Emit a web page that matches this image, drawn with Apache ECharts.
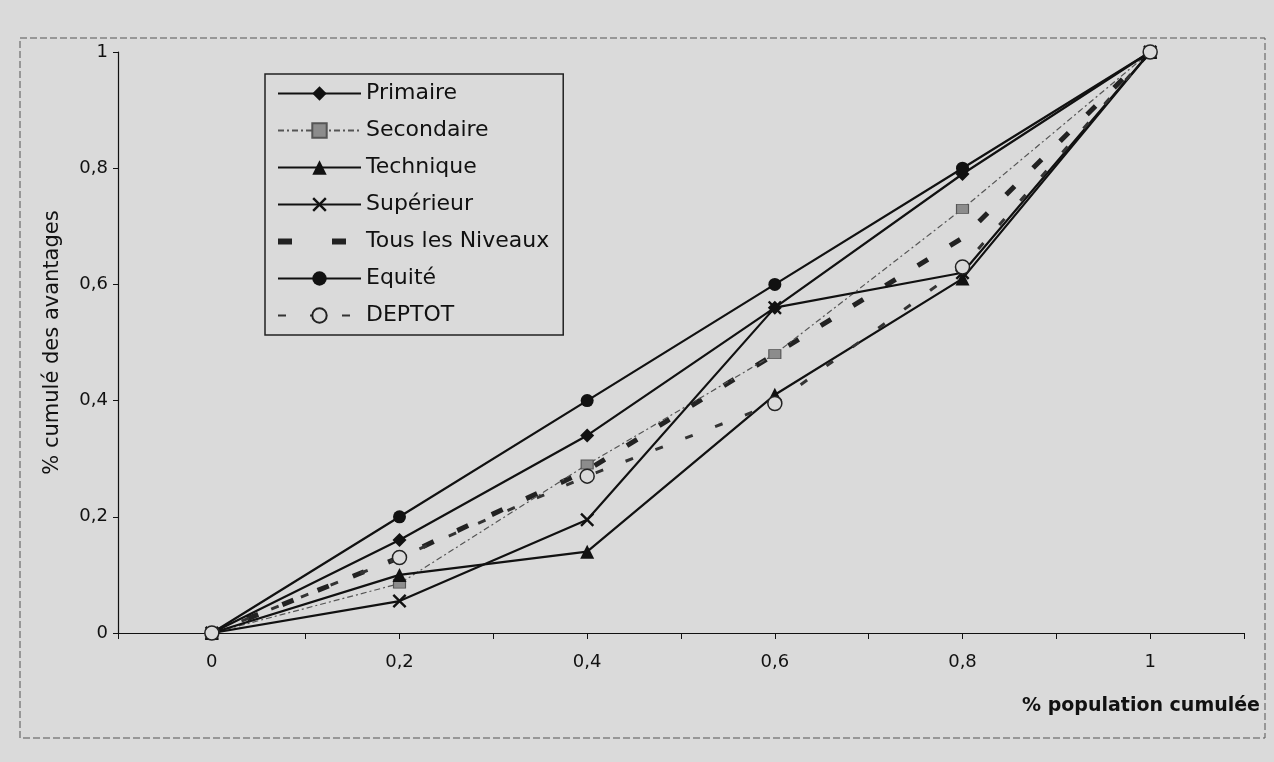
<!DOCTYPE html>
<html>
<head>
<meta charset="utf-8">
<script src="https://cdn.jsdelivr.net/npm/echarts@6/dist/echarts.min.js"></script>
<style>
html,body{margin:0;padding:0;background:#dadada;}
#chart{width:1274px;height:762px;}
</style>
</head>
<body>
<div id="chart"></div>
<script>
// ---- data ----
const xValues = [0, 0.2, 0.4, 0.6, 0.8, 1];
const primaire   = [0, 0.16, 0.34, 0.56, 0.79, 1];
const secondaire = [0, 0.085, 0.29, 0.48, 0.73, 1];
const technique  = [0, 0.10, 0.14, 0.41, 0.61, 1];
const superieur  = [0, 0.055, 0.195, 0.56, 0.62, 1];
const tousNiveaux= [0, 0.13, 0.28, 0.48, 0.68, 1];
const equite     = [0, 0.2, 0.4, 0.6, 0.8, 1];
const deptot     = [0, 0.13, 0.27, 0.395, 0.63, 1];
const seriesNames = ['Primaire','Secondaire','Technique','Supérieur','Tous les Niveaux','Equité','DEPTOT'];
const xTickLabels = {'0':'0','2':'0,2','4':'0,4','6':'0,6','8':'0,8','10':'1'};
const yTickLabels = {'0':'0','2':'0,2','4':'0,4','6':'0,6','8':'0,8','10':'1'};
const xTitle = '% population cumulée';
const yTitle = '% cumulé des avantages';

function pairs(ys){ return xValues.map((x,i)=>[x, ys[i]]); }

const xMark = 'path://M0,1.2 L1.2,0 L5,3.8 L8.8,0 L10,1.2 L6.2,5 L10,8.8 L8.8,10 L5,6.2 L1.2,10 L0,8.8 L3.8,5 Z';
const BLACK = '#111';
const BG = '#dadada';

const legendData = seriesNames.map(n => n === 'Tous les Niveaux'
  ? {name: n, itemStyle: {opacity: 0}, lineStyle: {type: [14, 40], width: 6}}
  : {name: n});

const chart = echarts.init(document.getElementById('chart'), null, {renderer:'canvas'});
const option = {
  backgroundColor: BG,
  animation: false,
  textStyle: {fontFamily: 'DejaVu Sans', color: BLACK},
  grid: {left: 118, right: 30, top: 52, bottom: 129},
  legend: {
    orient: 'vertical',
    left: 265, top: 74,
    padding: [8, 14, 8, 10],
    itemWidth: 83, itemHeight: 18, itemGap: 14,
    backgroundColor: BG,
    borderColor: '#222', borderWidth: 1.5,
    textStyle: {fontFamily: 'DejaVu Sans', fontSize: 22, color: BLACK, lineHeight: 23},
    data: legendData
  },
  xAxis: {
    type: 'value', min: -0.1, max: 1.1, interval: 0.1,
    axisLine: {show: true, onZero: false, lineStyle: {color: BLACK, width: 1.2}},
    axisTick: {show: true, length: 6, lineStyle: {color: BLACK}},
    splitLine: {show: false},
    axisLabel: {
      margin: 20, fontSize: 18, color: BLACK, fontFamily: 'DejaVu Sans',
      showMinLabel: true, showMaxLabel: true,
      formatter: v => { const k = String(Math.round(v*10)); return xTickLabels[k] !== undefined ? xTickLabels[k] : ''; }
    }
  },
  yAxis: {
    type: 'value', min: 0, max: 1, interval: 0.2,
    name: yTitle, nameLocation: 'middle', nameGap: 55,
    nameTextStyle: {fontSize: 21, color: BLACK, fontFamily: 'DejaVu Sans'},
    axisLine: {show: true, onZero: false, lineStyle: {color: BLACK, width: 1.2}},
    axisTick: {show: true, length: 5, lineStyle: {color: BLACK}},
    splitLine: {show: false},
    axisLabel: {
      margin: 10, fontSize: 18, color: BLACK, fontFamily: 'DejaVu Sans',
      formatter: v => { const k = String(Math.round(v*10)); return yTickLabels[k] !== undefined ? yTickLabels[k] : ''; }
    }
  },
  graphic: [
    {type: 'rect', silent: true, z: -1,
     shape: {x: 20, y: 38, width: 1245, height: 700},
     style: {fill: 'none', stroke: '#555', lineWidth: 1, lineDash: [7, 3]}},
    {type: 'text', right: 14, top: 697,
     style: {text: xTitle, font: 'bold 19px "DejaVu Sans"', fill: BLACK}}
  ],
  series: [
    {name: 'Primaire', type: 'line', data: pairs(primaire),
     symbol: 'diamond', symbolSize: 14,
     lineStyle: {color: BLACK, width: 2.2}, itemStyle: {color: BLACK}, z: 5},
    {name: 'Secondaire', type: 'line', data: pairs(secondaire),
     symbol: 'rect', symbolSize: [12, 9],
     lineStyle: {color: '#555', width: 1.2, type: [6, 3, 2, 3]},
     itemStyle: {color: '#8c8c8c', borderColor: '#555', borderWidth: 1}, z: 4},
    {name: 'Technique', type: 'line', data: pairs(technique),
     symbol: 'triangle', symbolSize: 14,
     lineStyle: {color: BLACK, width: 2.2}, itemStyle: {color: BLACK}, z: 5},
    {name: 'Supérieur', type: 'line', data: pairs(superieur),
     symbol: xMark, symbolSize: 14,
     lineStyle: {color: BLACK, width: 2.2}, itemStyle: {color: BLACK}, z: 5},
    {name: 'Tous les Niveaux', type: 'line', data: pairs(tousNiveaux),
     symbol: 'none', showSymbol: false,
     lineStyle: {color: '#222', width: 5, type: [12, 26]}, itemStyle: {color: '#222'}, z: 3},
    {name: 'Equité', type: 'line', data: pairs(equite),
     symbol: 'circle', symbolSize: 13,
     lineStyle: {color: BLACK, width: 2.2}, itemStyle: {color: BLACK}, z: 5},
    {name: 'DEPTOT', type: 'line', data: pairs(deptot),
     symbol: 'circle', symbolSize: 14,
     lineStyle: {color: '#333', width: 3, type: [8, 24]},
     itemStyle: {color: BG, borderColor: '#222', borderWidth: 1.5}, z: 6}
  ]
};
chart.setOption(option);
</script>
</body>
</html>
